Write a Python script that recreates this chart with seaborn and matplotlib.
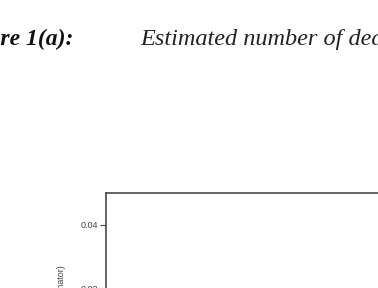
import matplotlib
matplotlib.use("Agg")
import matplotlib.pyplot as plt
import seaborn as sns

# values (only the upper-left corner of the panel is visible)
fig_label = "Figure 1(a):"
fig_title = "Estimated number of deaths"
y_label = "Density (kernel estimator)"
y_ticks = [0.00, 0.02, 0.04]
y_tick_labels = ["0.00", "0.02", "0.04"]
y_limits = (0.0, 0.05)

sns.set_style("ticks")
plt.rcParams["font.family"] = ["Liberation Sans", "DejaVu Sans"]

W, H = 378, 288
fig = plt.figure(figsize=(W / 100, H / 100), dpi=100)

# axes box runs off the right and bottom edge of the crop
left, top, bottom, right = 106, 193, 353, 430
ax = fig.add_axes([left / W, 1 - bottom / H, (right - left) / W, (bottom - top) / H])
ax.set_ylim(*y_limits)
ax.set_xlim(0, 1)
ax.set_yticks(y_ticks)
ax.set_yticklabels(y_tick_labels)
ax.set_xticks([])
ax.tick_params(axis="y", length=4, width=0.8, labelsize=6.5, colors="#444444", pad=2)
for s in ax.spines.values():
    s.set_color("#3a3a3a")
    s.set_linewidth(1.1)

# y label sits low on the axis, only its end shows in the crop
ax.set_ylabel(y_label, fontsize=6.5, color="#444444", va="center", ha="right")
ax.yaxis.set_label_coords((61 - left) / (right - left), (bottom - 265) / (bottom - top))

# heading text, cut by the edges of the crop
fig.text(73 / W, 1 - 45.5 / H, fig_label, ha="right", va="baseline",
         fontsize=17, fontweight="bold", fontstyle="italic",
         family=["Liberation Serif"], color="#111111")
fig.text(140 / W, 1 - 45.5 / H, fig_title, ha="left", va="baseline",
         fontsize=17.5, fontstyle="italic", family=["Liberation Serif"], color="#222222")

fig.savefig("out.png", dpi=100)
